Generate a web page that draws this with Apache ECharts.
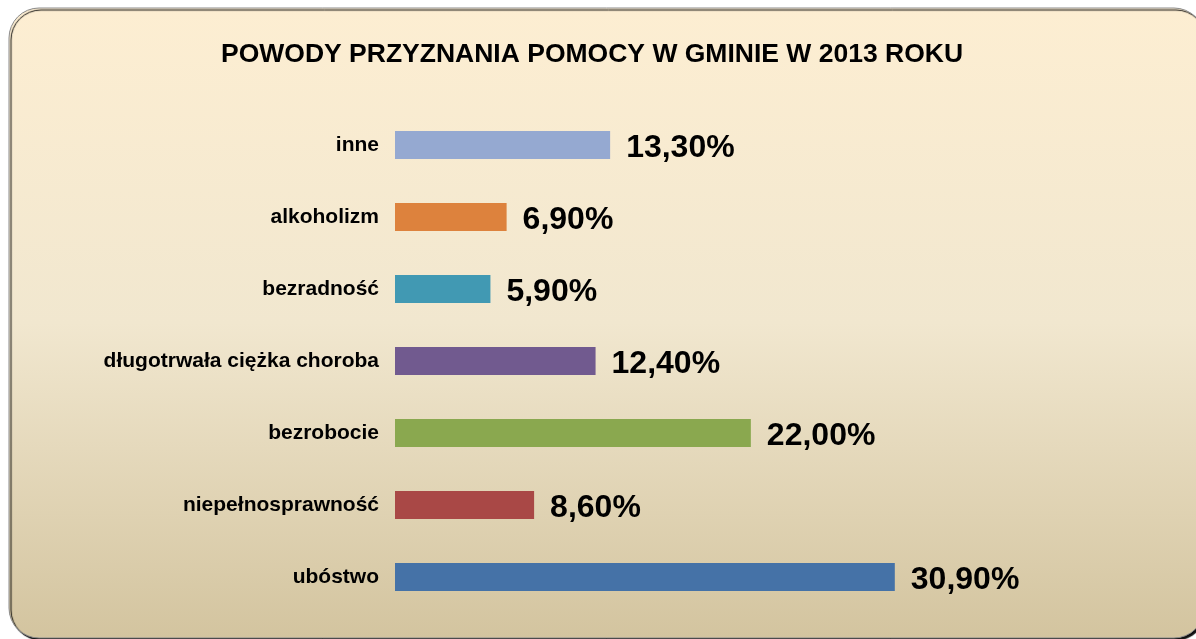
<!DOCTYPE html>
<html>
<head>
<meta charset="utf-8">
<script src="https://cdn.jsdelivr.net/npm/echarts@6/dist/echarts.min.js"></script>
<style>
  html, body { margin: 0; padding: 0; background: #fff; }
  #main { width: 1196px; height: 639px; }
</style>
</head>
<body>
<div id="main"></div>
<script>
// kategorie od góry do dołu
const categories = ['inne', 'alkoholizm', 'bezradność', 'długotrwała ciężka choroba', 'bezrobocie', 'niepełnosprawność', 'ubóstwo']
const values = [13.3, 6.9, 5.9, 12.4, 22.0, 8.6, 30.9]
const barColors = ['#95a9d1', '#dd823d', '#4199b3', '#715a8f', '#8aa84f', '#a94846', '#4572a7']

const myChart = echarts.init(document.getElementById('main'))
const option = {
  backgroundColor: '#fff',
  title: {
    text: 'POWODY PRZYZNANIA POMOCY W GMINIE W 2013 ROKU',
    left: 216,
    top: 36,
    textStyle: {
      fontFamily: 'Liberation Sans, Arial, sans-serif',
      fontSize: 26.5,
      fontWeight: 'bold',
      color: '#000'
    }
  },
  // tło z zaokrąglonymi rogami
  graphic: [
    {
      type: 'rect',
      z: -10,
      shape: { x: 9, y: 8, width: 1195, height: 630, r: 30 },
      style: {
        fill: new echarts.graphic.LinearGradient(0, 0, 0, 1, [
          { offset: 0, color: '#fdeed2' },
          { offset: 0.5, color: '#f1e7cf' },
          { offset: 1, color: '#d3c49f' }
        ]),
        stroke: '#8a8a8a',
        lineWidth: 1,
        shadowColor: 'rgba(0,0,0,0.95)',
        shadowOffsetX: 2,
        shadowOffsetY: 2,
        shadowBlur: 1
      }
    }
  ],
  grid: {
    left: 395,
    top: 109,
    width: 647,
    height: 504,
    containLabel: false
  },
  xAxis: {
    type: 'value',
    min: 0,
    max: 40,
    show: false,
    splitLine: { show: false }
  },
  yAxis: {
    type: 'category',
    inverse: true,
    data: categories,
    axisLine: { show: false },
    axisTick: { show: false },
    axisLabel: {
      margin: 16,
      padding: [4, 0, 0, 0],
      fontFamily: 'Liberation Sans, Arial, sans-serif',
      fontSize: 21,
      fontWeight: 'bold',
      color: '#000'
    }
  },
  series: [
    {
      type: 'bar',
      data: values.map((v, i) => ({ value: v, itemStyle: { color: barColors[i] } })),
      barWidth: 28,
      label: {
        show: true,
        position: 'right',
        distance: 16,
        offset: [0, 3],
        fontFamily: 'Liberation Sans, Arial, sans-serif',
        fontSize: 32,
        fontWeight: 'bold',
        color: '#000',
        formatter: p => p.value.toFixed(2).replace('.', ',') + '%'
      }
    }
  ]
}
option && myChart.setOption(option)
</script>
</body>
</html>
